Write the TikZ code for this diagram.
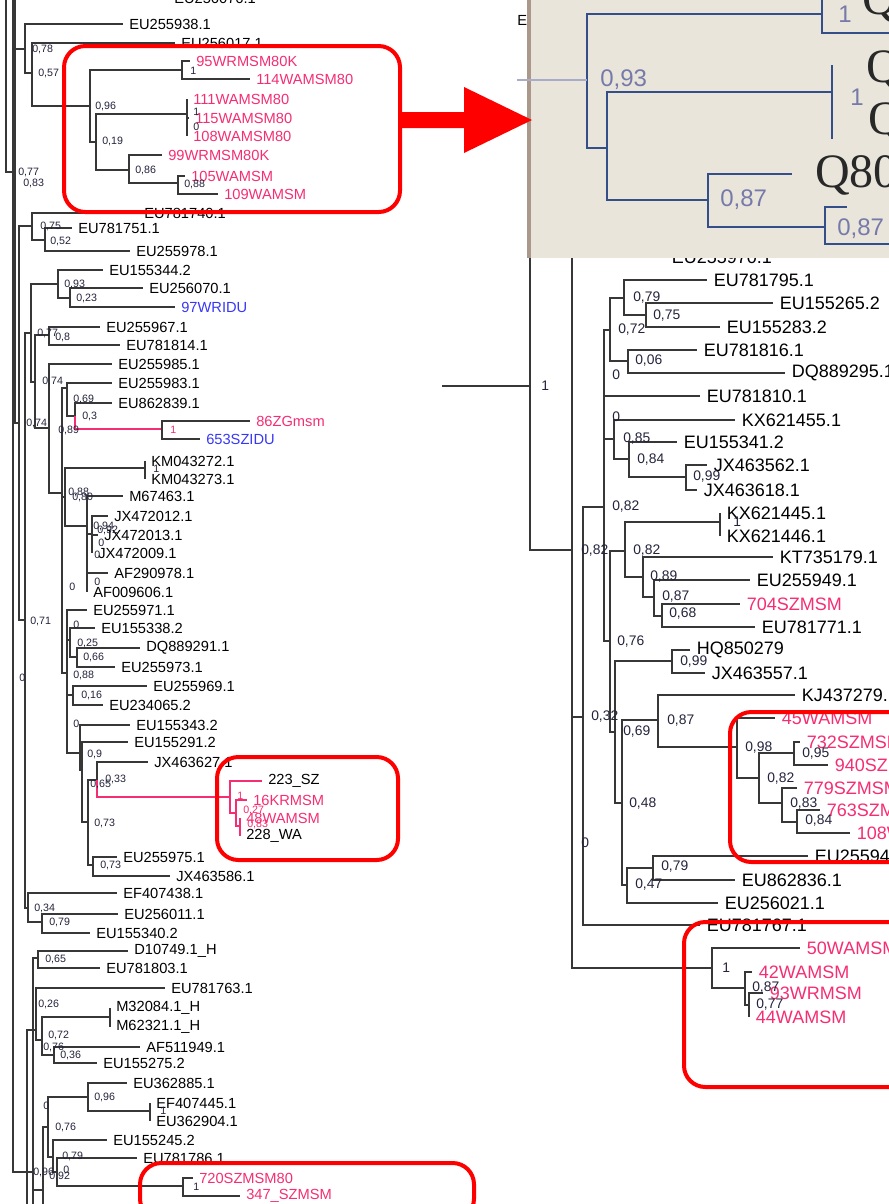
\documentclass[tikz,border=0pt]{standalone}
\usepackage{fontspec}
\setmainfont{Liberation Sans}
\newfontfamily\zoomserif{Liberation Serif}
\definecolor{branch}{RGB}{55,55,55}
\definecolor{support}{RGB}{35,35,60}
\definecolor{msm}{RGB}{245,45,115}
\definecolor{idu}{RGB}{55,55,245}
\definecolor{boxred}{RGB}{255,0,0}
\definecolor{insetbg}{RGB}{233,229,219}
\definecolor{insetedge}{RGB}{170,152,138}
\definecolor{insetline}{RGB}{52,78,138}
\definecolor{insetnum}{RGB}{118,122,170}
\definecolor{insetfade}{RGB}{168,172,200}
\definecolor{insettext}{RGB}{40,40,40}
\tikzset{
  br/.style={draw=branch,line width=0.8pt},
  pbr/.style={draw=msm,line width=0.8pt},
  lf/.style={anchor=west,inner xsep=4.5pt,inner ysep=0pt,font=\fontsize{11}{12}\selectfont},
  rlf/.style={anchor=west,inner xsep=5pt,inner ysep=0pt,font=\fontsize{13.5}{15}\selectfont},
  sp/.style={anchor=west,inner sep=0pt,text=support,font=\fontsize{8}{9}\selectfont},
  rsp/.style={anchor=west,inner sep=0pt,text=support,font=\fontsize{10.4}{11}\selectfont},
  hl/.style={draw=boxred,line width=3pt,rounded corners=16pt},
  ib/.style={draw=insetline,line width=2.2pt},
  inum/.style={anchor=west,inner sep=0pt,text=insetnum,font=\fontsize{18}{18}\selectfont},
  zq/.style={anchor=west,inner sep=0pt,text=insettext,font=\zoomserif\fontsize{36}{36}\selectfont}
}
\begin{document}
\begin{tikzpicture}[x=0.75pt,y=-0.75pt]
\useasboundingbox (0,0) rectangle (889,1204);
\clip (0,0) rectangle (889,1204);

\coordinate (ltop) at (13,-5);
\coordinate (lbend) at (13,1172);
\coordinate (ltop2) at (6,-5);
\coordinate (lj) at (13,172);
\coordinate (lroot) at (13,183);
\coordinate (t1) at (15,183);
\coordinate (t1up) at (15,-5);
\coordinate (na) at (25,49);
\coordinate (nb) at (32,73);
\coordinate (nc) at (90,106);
\coordinate (nc1) at (182,70);
\coordinate (nc2) at (96,142);
\coordinate (nc3) at (187,114);
\coordinate (nc4) at (129,170);
\coordinate (nc5) at (178,183);
\coordinate (nb19) at (19,423);
\coordinate (nd) at (32,226);
\coordinate (nd1) at (45,240);
\coordinate (ne) at (25,620);
\coordinate (nf) at (31,333);
\coordinate (nh) at (58,284);
\coordinate (nh1) at (70,298);
\coordinate (ni) at (35,382);
\coordinate (nj) at (49,335);
\coordinate (nk) at (49,428);
\coordinate (nl) at (62,493);
\coordinate (nm) at (67,388);
\coordinate (nm1) at (75,416);
\coordinate (nm2) at (162,429);
\coordinate (nn) at (65,497);
\coordinate (nn1) at (145,468);
\coordinate (nn2) at (87,526);
\coordinate (nn3) at (92,534);
\coordinate (no) at (67,673);
\coordinate (no1) at (70,640);
\coordinate (no3) at (77,657);
\coordinate (no2) at (73,695);
\coordinate (nq1) at (80,753);
\coordinate (nq2) at (82,770);
\coordinate (nq3) at (88,822);
\coordinate (nq4) at (97,780);
\coordinate (np1) at (230,797);
\coordinate (np2) at (236,813);
\coordinate (np3) at (240,826);
\coordinate (nq5) at (93,865);
\coordinate (ng) at (28,908);
\coordinate (ng1) at (42,922);
\coordinate (ns) at (33,1172);
\coordinate (nsbot) at (33,1212);
\coordinate (nr) at (27,1212);
\coordinate (nt) at (38,958);
\coordinate (nu) at (36,1030);
\coordinate (nw) at (42,1040);
\coordinate (nx) at (110,1017);
\coordinate (ny) at (54,1055);
\coordinate (nv) at (43,1190);
\coordinate (nvbot) at (43,1212);
\coordinate (nz) at (48,1127);
\coordinate (nz1) at (88,1097);
\coordinate (nz3) at (150,1111);
\coordinate (nz2) at (53,1157);
\coordinate (nz4) at (57,1172);
\coordinate (nz5) at (183,1186);

\node[lf] (eu256076) at (168,-2) {EU256076.1};
\node[lf] (eu255938) at (123,24) {EU255938.1};
\node[lf] (eu256017) at (175,43) {EU256017.1};
\node[lf,text=msm] (wr95) at (190,61) {95WRMSM80K};
\node[lf,text=msm] (wa114) at (250,79) {114WAMSM80};
\node[lf,text=msm] (wa111) at (187,99) {111WAMSM80};
\node[lf,text=msm] (wa115) at (189,118) {115WAMSM80};
\node[lf,text=msm] (wa108) at (187,136) {108WAMSM80};
\node[lf,text=msm] (wr99) at (162,155) {99WRMSM80K};
\node[lf,text=msm] (wa105) at (185,176) {105WAMSM};
\node[lf,text=msm] (wa109) at (218,194) {109WAMSM};
\node[lf] (eu781740) at (138,213) {EU781740.1};
\node[lf] (eu781751) at (72,228) {EU781751.1};
\node[lf] (eu255978) at (130,251) {EU255978.1};
\node[lf] (eu155344) at (103,270) {EU155344.2};
\node[lf] (eu256070) at (143,288) {EU256070.1};
\node[lf,text=idu] (wridu97) at (175,307) {97WRIDU};
\node[lf] (eu255967) at (100,327) {EU255967.1};
\node[lf] (eu781814) at (120,345) {EU781814.1};
\node[lf] (eu255985) at (112,364) {EU255985.1};
\node[lf] (eu255983) at (112,383) {EU255983.1};
\node[lf] (eu862839) at (112,403) {EU862839.1};
\node[lf,text=msm] (zg86) at (250,421) {86ZGmsm};
\node[lf,text=idu] (szidu653) at (200,439) {653SZIDU};
\node[lf] (km043272) at (145,461) {KM043272.1};
\node[lf] (km043273) at (145,479) {KM043273.1};
\node[lf] (m67463) at (123,496) {M67463.1};
\node[lf] (jx472012) at (108,516) {JX472012.1};
\node[lf] (jx472013) at (98,535) {JX472013.1};
\node[lf] (jx472009) at (92,553) {JX472009.1};
\node[lf] (af290978) at (108,573) {AF290978.1};
\node[lf] (af009606) at (87,592) {AF009606.1};
\node[lf] (eu255971) at (87,610) {EU255971.1};
\node[lf] (eu155338) at (95,628) {EU155338.2};
\node[lf] (dq889291) at (140,648) {DQ889291.1};
\node[lf] (eu255973) at (115,667) {EU255973.1};
\node[lf] (eu255969) at (147,686) {EU255969.1};
\node[lf] (eu234065) at (103,705) {EU234065.2};
\node[lf] (eu155343) at (130,725) {EU155343.2};
\node[lf] (eu155291) at (128,742) {EU155291.2};
\node[lf] (jx463627) at (148,762) {JX463627.1};
\node[lf] (sz223) at (262,781) {223\_SZ};
\node[lf,text=msm] (kr16) at (247,800) {16KRMSM};
\node[lf,text=msm] (wa48) at (240,818) {48WAMSM};
\node[lf] (wa228) at (240,836) {228\_WA};
\node[lf] (eu255975) at (117,857) {EU255975.1};
\node[lf] (jx463586) at (170,876) {JX463586.1};
\node[lf] (ef407438) at (117,893) {EF407438.1};
\node[lf] (eu256011) at (118,914) {EU256011.1};
\node[lf] (eu155340) at (90,933) {EU155340.2};
\node[lf] (d10749) at (128,951) {D10749.1\_H};
\node[lf] (eu781803) at (100,968) {EU781803.1};
\node[lf] (eu781763) at (165,988) {EU781763.1};
\node[lf] (m32084) at (110,1008) {M32084.1\_H};
\node[lf] (m62321) at (110,1027) {M62321.1\_H};
\node[lf] (af511949) at (140,1047) {AF511949.1};
\node[lf] (eu155275) at (97,1063) {EU155275.2};
\node[lf] (eu362885) at (127,1083) {EU362885.1};
\node[lf] (ef407445) at (150,1103) {EF407445.1};
\node[lf] (eu362904) at (150,1121) {EU362904.1};
\node[lf] (eu155245) at (107,1140) {EU155245.2};
\node[lf] (eu781786) at (137,1158) {EU781786.1};
\node[lf,text=msm] (sz720) at (193,1178) {720SZMSM80};
\node[lf,text=msm] (sz347) at (240,1196) {347\_SZMSM};

\draw[br] (ltop) -- (lbend) -- (ns);
\draw[br] (ltop2) |- (lj);
\draw[br] (lroot) -- (t1);
\draw[br] (t1) |- (t1up) (t1) |- (na) (t1) |- (nb19);
\draw[br] (na) |- (eu255938.west) (na) |- (nb);
\draw[br] (nb) |- (eu256017.west) (nb) |- (nc);
\draw[br] (nc) |- (nc1) (nc) |- (nc2);
\draw[br] (nc1) |- (wr95.west) (nc1) |- (wa114.west);
\draw[br] (nc2) |- (nc3) (nc2) |- (nc4);
\draw[br] (nc3) |- (wa111.west) (nc3) |- (wa115.west) (nc3) |- (wa108.west);
\draw[br] (nc4) |- (wr99.west) (nc4) |- (nc5);
\draw[br] (nc5) |- (wa105.west) (nc5) |- (wa109.west);
\draw[br] (nb19) |- (nd) (nb19) |- (ne);
\draw[br] (nd) |- (eu781740.west) (nd) |- (nd1);
\draw[br] (nd1) |- (eu781751.west) (nd1) |- (eu255978.west);
\draw[br] (ne) |- (nf) (ne) |- (ng);
\draw[br] (nf) |- (nh) (nf) |- (ni);
\draw[br] (nh) |- (eu155344.west) (nh) |- (nh1);
\draw[br] (nh1) |- (eu256070.west) (nh1) |- (wridu97.west);
\draw[br] (ni) |- (nj) (ni) |- (nk);
\draw[br] (nj) |- (eu255967.west) (nj) |- (eu781814.west);
\draw[br] (nk) |- (eu255985.west) (nk) |- (nl);
\draw[br] (nl) |- (nm) (nl) |- (nn) (nl) |- (no);
\draw[br] (nm) |- (eu255983.west) (nm) |- (nm1);
\draw[br] (nm1) |- (eu862839.west);
\draw[pbr] (nm1) |- (nm2);
\draw[br] (nm2) |- (zg86.west) (nm2) |- (szidu653.west);
\draw[br] (nn) |- (nn1) (nn) |- (nn2);
\draw[br] (nn1) |- (km043272.west) (nn1) |- (km043273.west);
\draw[br] (nn2) |- (m67463.west) (nn2) |- (nn3) (nn2) |- (af290978.west) (nn2) |- (af009606.west);
\draw[br] (nn3) |- (jx472012.west) (nn3) |- (jx472013.west) (nn3) |- (jx472009.west);
\draw[br] (no) |- (eu255971.west) (no) |- (no1) (no) |- (no2) (no) |- (nq1);
\draw[br] (no1) |- (eu155338.west) (no1) |- (no3);
\draw[br] (no3) |- (dq889291.west) (no3) |- (eu255973.west);
\draw[br] (no2) |- (eu255969.west) (no2) |- (eu234065.west);
\draw[br] (nq1) |- (eu155343.west) (nq1) |- (nq2);
\draw[br] (nq2) |- (eu155291.west) (nq2) |- (nq3);
\draw[br] (nq3) |- (nq4) (nq3) |- (nq5);
\draw[br] (nq4) |- (jx463627.west);
\draw[pbr] (nq4) |- (np1);
\draw[pbr] (np1) |- (sz223.west) (np1) |- (np2);
\draw[pbr] (np2) |- (kr16.west) (np2) |- (np3);
\draw[pbr] (np3) |- (wa48.west) (np3) |- (wa228.west);
\draw[br] (nq5) |- (eu255975.west) (nq5) |- (jx463586.west);
\draw[br] (ng) |- (ef407438.west) (ng) |- (ng1);
\draw[br] (ng1) |- (eu256011.west) (ng1) |- (eu155340.west);
\draw[br] (ns) |- (nt) (ns) |- (nsbot) (ns) |- (nv);
\draw[br] (nr) |- (nu);
\draw[br] (nt) |- (d10749.west) (nt) |- (eu781803.west);
\draw[br] (nu) |- (eu781763.west) (nu) |- (nw);
\draw[br] (nw) |- (nx) (nw) |- (ny);
\draw[br] (nx) |- (m32084.west) (nx) |- (m62321.west);
\draw[br] (ny) |- (af511949.west) (ny) |- (eu155275.west);
\draw[br] (nv) |- (nz) (nv) |- (nvbot);
\draw[br] (nz) |- (nz1) (nz) |- (nz2);
\draw[br] (nz1) |- (eu362885.west) (nz1) |- (nz3);
\draw[br] (nz3) |- (ef407445.west) (nz3) |- (eu362904.west);
\draw[br] (nz2) |- (eu155245.west) (nz2) |- (nz4);
\draw[br] (nz4) |- (eu781786.west) (nz4) |- (nz5);
\draw[br] (nz5) |- (sz720.west) (nz5) |- (sz347.west);

\node[sp] (s1) at (32,49) {0,78};
\node[sp] (s2) at (38,73) {0,57};
\node[sp] (s3) at (190,71) {1};
\node[sp] (s4) at (95,106) {0,96};
\node[sp] (s5) at (193,112) {1};
\node[sp] (s6) at (193,127) {0};
\node[sp] (s7) at (102,141) {0,19};
\node[sp] (s8) at (135,170) {0,86};
\node[sp] (s9) at (184,184) {0,88};
\node[sp] (s10) at (18,172) {0,77};
\node[sp] (s11) at (23,183) {0,83};
\node[sp] (s12) at (40,226) {0,75};
\node[sp] (s13) at (50,241) {0,52};
\node[sp] (s14) at (64,284) {0,93};
\node[sp] (s15) at (76,298) {0,23};
\node[sp] (s16) at (37,333) {0,77};
\node[sp] (s17) at (55,337) {0,8};
\node[sp] (s18) at (42,381) {0,74};
\node[sp] (s19) at (73,399) {0,69};
\node[sp] (s20) at (82,416) {0,3};
\node[sp] (s21) at (26,423) {0,74};
\node[sp] (s22) at (58,430) {0,89};
\node[sp,text=msm] (s23) at (170,430) {1};
\node[sp] (s24) at (153,469) {1};
\node[sp] (s25) at (68,492) {0,88};
\node[sp] (s26) at (72,497) {0,80};
\node[sp] (s27) at (93,526) {0,94};
\node[sp] (s28) at (97,530) {0,92};
\node[sp] (s29) at (98,543) {0};
\node[sp] (s30) at (94,555) {0};
\node[sp] (s31) at (94,582) {0};
\node[sp] (s32) at (69,587) {0};
\node[sp] (s33) at (30,621) {0,71};
\node[sp] (s34) at (73,625) {0};
\node[sp] (s35) at (77,643) {0,25};
\node[sp] (s36) at (83,657) {0,66};
\node[sp] (s37) at (73,675) {0,88};
\node[sp] (s38) at (19,678) {0};
\node[sp] (s39) at (81,695) {0,16};
\node[sp] (s40) at (73,724) {0};
\node[sp] (s41) at (87,754) {0,9};
\node[sp] (s42) at (105,779) {0,33};
\node[sp] (s43) at (90,784) {0,65};
\node[sp,text=msm] (s44) at (237,796) {1};
\node[sp,text=msm] (s45) at (243,810) {0,27};
\node[sp,text=msm] (s46) at (247,824) {0,83};
\node[sp] (s47) at (94,823) {0,73};
\node[sp] (s48) at (100,865) {0,73};
\node[sp] (s49) at (34,908) {0,34};
\node[sp] (s50) at (49,922) {0,79};
\node[sp] (s51) at (45,959) {0,65};
\node[sp] (s52) at (38,1004) {0,26};
\node[sp] (s53) at (48,1035) {0,72};
\node[sp] (s54) at (43,1047) {0,76};
\node[sp] (s55) at (60,1055) {0,36};
\node[sp] (s56) at (94,1097) {0,96};
\node[sp] (s57) at (43,1106) {0};
\node[sp] (s58) at (160,1111) {1};
\node[sp] (s59) at (55,1127) {0,76};
\node[sp] (s60) at (62,1156) {0,79};
\node[sp] (s61) at (33,1172) {0,96};
\node[sp] (s62) at (63,1170) {0};
\node[sp] (s63) at (49,1176) {0,92};
\node[sp] (s64) at (193,1187) {1};

\coordinate (rr) at (442,386);
\coordinate (r1) at (530,386);
\coordinate (r1up) at (530,240);
\coordinate (r2) at (572,550);
\coordinate (r3) at (583,717);
\coordinate (r5) at (604,507);
\coordinate (r6) at (610,330);
\coordinate (r6a) at (624,298);
\coordinate (r6c) at (646,315);
\coordinate (r6b) at (628,361);
\coordinate (r7) at (614,439);
\coordinate (r7a) at (629,459);
\coordinate (r7b) at (686,477);
\coordinate (r8) at (610,641);
\coordinate (r9) at (625,551);
\coordinate (r9a) at (720,522);
\coordinate (r9b) at (643,577);
\coordinate (r9c) at (654,597);
\coordinate (r9d) at (662,616);
\coordinate (r10) at (615,732);
\coordinate (r10a) at (672,661);
\coordinate (r11) at (622,803);
\coordinate (r12) at (658,720);
\coordinate (r14) at (737,747);
\coordinate (r15) at (759,778);
\coordinate (r15a) at (794,753);
\coordinate (r15b) at (782,803);
\coordinate (r15c) at (797,822);
\coordinate (r13) at (627,885);
\coordinate (r13a) at (653,868);
\coordinate (r4) at (712,968);
\coordinate (r16) at (745,988);
\coordinate (r17) at (749,1005);

\node[lf,inner xsep=0pt] (ecut) at (517,21) {EU};
\node[rlf] (eu255970) at (665,257) {EU255970.1};
\node[rlf] (eu781795) at (707,280) {EU781795.1};
\node[rlf] (eu155265) at (773,303) {EU155265.2};
\node[rlf] (eu155283) at (720,327) {EU155283.2};
\node[rlf] (eu781816) at (697,350) {EU781816.1};
\node[rlf] (dq889295) at (785,373) {DQ889295.1};
\node[rlf] (eu781810) at (700,396) {EU781810.1};
\node[rlf] (kx621455) at (735,420) {KX621455.1};
\node[rlf] (eu155341) at (677,442) {EU155341.2};
\node[rlf] (jx463562) at (707,465) {JX463562.1};
\node[rlf] (jx463618) at (697,490) {JX463618.1};
\node[rlf] (kx621445) at (720,513) {KX621445.1};
\node[rlf] (kx621446) at (720,536) {KX621446.1};
\node[rlf] (kt735179) at (773,557) {KT735179.1};
\node[rlf] (eu255949) at (750,580) {EU255949.1};
\node[rlf,text=msm] (sz704) at (740,604) {704SZMSM};
\node[rlf] (eu781771) at (755,627) {EU781771.1};
\node[rlf] (hq850279) at (690,650) {HQ850279};
\node[rlf] (jx463557) at (705,673) {JX463557.1};
\node[rlf] (kj437279) at (795,695) {KJ437279.1};
\node[rlf,text=msm] (wa45) at (775,718) {45WAMSM};
\node[rlf,text=msm] (sz732) at (800,742) {732SZMSM};
\node[rlf,text=msm] (sz940) at (828,765) {940SZMSM};
\node[rlf,text=msm] (sz779) at (797,788) {779SZMSM};
\node[rlf,text=msm] (sz763) at (820,810) {763SZMSM};
\node[rlf,text=msm] (wa108r) at (850,833) {108WAMSM};
\node[rlf] (eu255943) at (808,856) {EU255943.1};
\node[rlf] (eu862836) at (735,880) {EU862836.1};
\node[rlf] (eu256021) at (718,903) {EU256021.1};
\node[rlf] (eu781767) at (700,925) {EU781767.1};
\node[rlf,text=msm] (wa50) at (800,948) {50WAMSM};
\node[rlf,text=msm] (wa42) at (752,972) {42WAMSM};
\node[rlf,text=msm] (wr93) at (763,993) {93WRMSM};
\node[rlf,text=msm] (wa44) at (749,1017) {44WAMSM};

\draw[br] (rr) -- (r1);
\draw[br] (r1) |- (r1up) (r1) |- (r2);
\draw[br] (r2) |- (eu255970.west) (r2) |- (r3) (r2) |- (r4);
\draw[br] (r3) |- (r5) (r3) |- (eu781767.west);
\draw[br] (r5) |- (r6) (r5) |- (eu781810.west) (r5) |- (r7) (r5) |- (r8);
\draw[br] (r6) |- (r6a) (r6) |- (r6b);
\draw[br] (r6a) |- (eu781795.west) (r6a) |- (r6c);
\draw[br] (r6c) |- (eu155265.west) (r6c) |- (eu155283.west);
\draw[br] (r6b) |- (eu781816.west) (r6b) |- (dq889295.west);
\draw[br] (r7) |- (kx621455.west) (r7) |- (r7a);
\draw[br] (r7a) |- (eu155341.west) (r7a) |- (r7b);
\draw[br] (r7b) |- (jx463562.west) (r7b) |- (jx463618.west);
\draw[br] (r8) |- (r9) (r8) |- (r10);
\draw[br] (r9) |- (r9a) (r9) |- (r9b);
\draw[br] (r9a) |- (kx621445.west) (r9a) |- (kx621446.west);
\draw[br] (r9b) |- (kt735179.west) (r9b) |- (r9c);
\draw[br] (r9c) |- (eu255949.west) (r9c) |- (r9d);
\draw[br] (r9d) |- (sz704.west) (r9d) |- (eu781771.west);
\draw[br] (r10) |- (r10a) (r10) |- (r11);
\draw[br] (r10a) |- (hq850279.west) (r10a) |- (jx463557.west);
\draw[br] (r11) |- (r12) (r11) |- (r13);
\draw[br] (r12) |- (kj437279.west) (r12) |- (r14);
\draw[br] (r14) |- (wa45.west) (r14) |- (r15);
\draw[br] (r15) |- (r15a) (r15) |- (r15b);
\draw[br] (r15a) |- (sz732.west) (r15a) |- (sz940.west);
\draw[br] (r15b) |- (sz779.west) (r15b) |- (r15c);
\draw[br] (r15c) |- (sz763.west) (r15c) |- (wa108r.west);
\draw[br] (r13) |- (r13a) (r13) |- (eu256021.west);
\draw[br] (r13a) |- (eu255943.west) (r13a) |- (eu862836.west);
\draw[br] (r4) |- (wa50.west) (r4) |- (r16);
\draw[br] (r16) |- (wa42.west) (r16) |- (r17);
\draw[br] (r17) |- (wr93.west) (r17) |- (wa44.west);

\node[rsp] (t1r) at (541,386) {1};
\node[rsp] (t2r) at (633,298) {0,79};
\node[rsp] (t3r) at (653,316) {0,75};
\node[rsp] (t4r) at (618,330) {0,72};
\node[rsp] (t5r) at (635,361) {0,06};
\node[rsp] (t6r) at (612,375) {0};
\node[rsp] (t7r) at (612,417) {0};
\node[rsp] (t8r) at (623,439) {0,85};
\node[rsp] (t9r) at (637,460) {0,84};
\node[rsp] (t10r) at (693,477) {0,99};
\node[rsp] (t11r) at (612,507) {0,82};
\node[rsp] (t12r) at (733,522) {1};
\node[rsp] (t13r) at (581,551) {0,82};
\node[rsp] (t14r) at (633,551) {0,82};
\node[rsp] (t15r) at (650,577) {0,89};
\node[rsp] (t16r) at (662,597) {0,87};
\node[rsp] (t17r) at (669,614) {0,68};
\node[rsp] (t18r) at (617,642) {0,76};
\node[rsp] (t19r) at (680,662) {0,99};
\node[rsp] (t20r) at (591,717) {0,32};
\node[rsp] (t21r) at (667,721) {0,87};
\node[rsp] (t22r) at (623,732) {0,69};
\node[rsp] (t23r) at (745,748) {0,98};
\node[rsp] (t24r) at (802,754) {0,95};
\node[rsp] (t25r) at (767,779) {0,82};
\node[rsp] (t26r) at (790,804) {0,83};
\node[rsp] (t27r) at (805,821) {0,84};
\node[rsp] (t28r) at (629,804) {0,48};
\node[rsp] (t29r) at (581,843) {0};
\node[rsp] (t30r) at (661,867) {0,79};
\node[rsp] (t31r) at (635,885) {0,47};
\node[rsp] (t32r) at (722,968) {1};
\node[rsp] (t33r) at (752,988) {0,87};
\node[rsp] (t34r) at (756,1005) {0,77};

\begin{scope}
\clip (527,-5) rectangle (895,258);
\fill[insetbg] (527,-5) rectangle (895,258);
\fill[insetedge] (527,-5) rectangle (531,258);
\coordinate (i1) at (587,80);
\coordinate (i2) at (822,14);
\coordinate (i2a) at (822,-8);
\coordinate (i2b) at (895,33);
\coordinate (i3) at (607,148);
\coordinate (i4) at (832,92);
\coordinate (i4a) at (832,65);
\coordinate (i4b) at (832,139);
\coordinate (i5) at (708,200);
\coordinate (q80tip) at (792,174);
\coordinate (i6) at (825,227);
\coordinate (i6a) at (847,207);
\coordinate (i6b) at (895,244);
\draw[ib] (i1) |- (i2) (i1) |- (i3);
\draw[ib] (i2) |- (i2a) (i2) |- (i2b);
\draw[ib] (i3) |- (i4) (i3) |- (i5);
\draw[ib] (i4) |- (i4a) (i4) |- (i4b);
\draw[ib] (i5) |- (q80tip) (i5) |- (i6);
\draw[ib] (i6) |- (i6a) (i6) |- (i6b);
\node[zq] (qa) at (862,2) {Q80};
\node[zq] (qb) at (866,70) {Q80};
\node[zq] (qc) at (868,122) {Q80};
\node[zq] (q80) at (815,175) {Q80};
\node[inum] (u1) at (838,14) {1};
\node[inum] (u2) at (850,97) {1};
\node[inum] (u3) at (720,200) {0,87};
\node[inum] (u4) at (837,229) {0,87};
\end{scope}
\coordinate (i0) at (517,80);
\draw[draw=insetfade,line width=2.2pt] (i0) -- (i1);
\node[inum] (u5) at (600,80) {0,93};

\draw[hl] (64,46) rectangle (400,212);
\draw[hl] (217,757) rectangle (398,860);
\draw[hl] (140,1163) rectangle (474,1220);
\draw[hl] (730,712) rectangle (920,862);
\draw[hl] (684,922) rectangle (920,1087);
\fill[boxred] (400,112) -- (464,112) -- (464,87) -- (532,120) -- (464,153) -- (464,128) -- (400,128) -- cycle;
\end{tikzpicture}
\end{document}
